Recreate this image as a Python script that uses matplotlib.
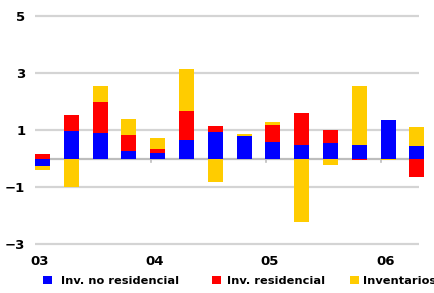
import matplotlib
matplotlib.use('Agg')
import matplotlib.pyplot as plt
from matplotlib.patches import Rectangle
import numpy as np

# contributions by quarter, 2003Q1 .. 2006Q2
no_residencial = [-0.25, 0.98, 0.90, 0.27, 0.19, 0.66, 0.94, 0.80, 0.59, 0.48, 0.55, 0.48, 1.36, 0.45]
residencial = [0.17, 0.53, 1.09, 0.56, 0.14, 1.02, 0.21, -0.03, 0.60, 1.12, 0.46, -0.07, 0.00, -0.64]
inventarios = [-0.14, -1.00, 0.56, 0.56, 0.40, 1.47, -0.84, 0.07, 0.10, -2.24, -0.22, 2.07, -0.06, 0.66]
series_names = ['Inv. no residencial', 'Inv. residencial', 'Inventarios']
colors = ['#0000ff', '#ff0000', '#ffcc00']
year_labels = ['03', '04', '05', '06']
y_ticks = [5, 3, 1, -1, -3]

W, H = 435, 293
fig = plt.figure(figsize=(W / 100, H / 100), dpi=100)
ax = fig.add_axes([0.0805, 0.1478, 0.8825, 0.817])

x = np.arange(len(no_residencial))
pos_base = np.zeros(len(x))
neg_base = np.zeros(len(x))
for vals, color, name in zip([no_residencial, residencial, inventarios], colors, series_names):
    vals = np.array(vals)
    pos = np.where(vals > 0, vals, 0)
    neg = np.where(vals < 0, vals, 0)
    ax.bar(x, pos, 0.52, bottom=pos_base, color=color, label=name, clip_on=False, zorder=3)
    ax.bar(x, neg, 0.52, bottom=neg_base, color=color, clip_on=False, zorder=3)
    pos_base += pos
    neg_base += neg

for t in y_ticks:
    ax.axhline(t, color='#d4d4d4', lw=1.6, zorder=1)
ax.axhline(0, color='#bdbdbd', lw=1.6, zorder=2)
for t in [3.75, 7.75, 11.75]:
    ax.plot([t, t], [0, -0.12], color='#bdbdbd', lw=1.2, zorder=2)

ax.set_xlim(-0.26, 13.07)
ax.set_ylim(-3.2, 5.2)
ax.set_yticks(y_ticks)
ax.set_yticklabels(['5', '3', '1', '\u22121', '\u22123'], fontweight='bold', fontsize=9.5)
ax.tick_params(axis='y', length=0, pad=7)
ax.set_xticks([])
for s in ax.spines.values():
    s.set_visible(False)

for lbl, xp in zip(year_labels, [-0.09, 3.9, 7.9, 11.93]):
    ax.text(xp, -3.62, lbl, ha='center', va='center', fontsize=9.5, fontweight='bold')

# legend drawn by hand to match the original spacing
for name, color, sq_x, tx_x in zip(series_names, colors, [43, 212, 350], [61, 227, 363]):
    fig.patches.append(Rectangle((sq_x / W, (H - 284) / H), 9 / W, 8 / H, transform=fig.transFigure,
                                 facecolor=color, edgecolor='none'))
    fig.text(tx_x / W, (H - 281) / H, name, ha='left', va='center', fontsize=8.2, fontweight='bold')

fig.savefig('out.png', dpi=100)
